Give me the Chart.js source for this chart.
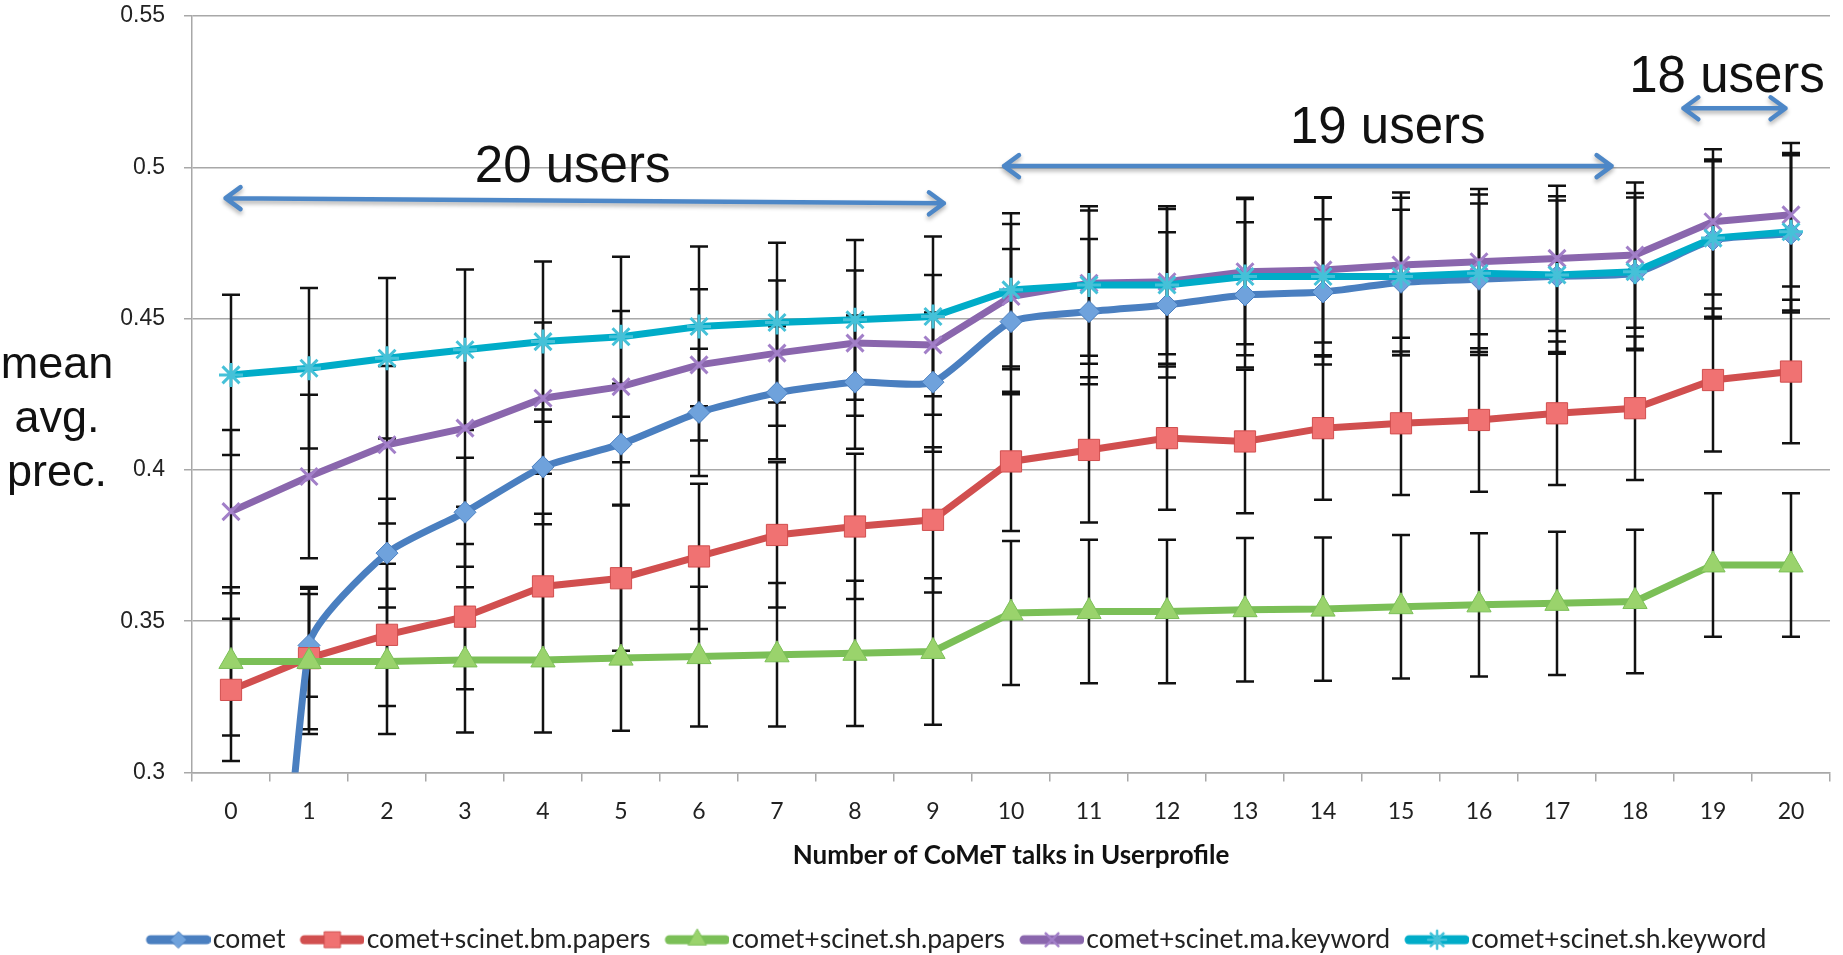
<!DOCTYPE html>
<html>
<head>
<meta charset="utf-8">
<script src="https://cdn.jsdelivr.net/npm/chart.js@4.4.1/dist/chart.umd.min.js"></script>
<style>
  html, body { margin: 0; padding: 0; background: #fff; }
</style>
</head>
<body>
<canvas id="prec" width="1843" height="955"></canvas>
<script>
const talks = ['0', '1', '2', '3', '4', '5', '6', '7', '8', '9', '10',
  '11', '12', '13', '14', '15', '16', '17', '18', '19', '20'];

// mean average precision per number of CoMeT talks
const comet = [0.0, 0.342, 0.3725, 0.386, 0.401, 0.4085, 0.419, 0.4255, 0.429, 0.429, 0.449,
  0.4523, 0.4545, 0.4578, 0.4588, 0.462, 0.463, 0.464, 0.465, 0.476, 0.478];
const bmPapers = [0.3273, 0.3378, 0.3455, 0.3515, 0.3615, 0.3642, 0.3714, 0.3785, 0.3813, 0.3835, 0.4028,
  0.4066, 0.4105, 0.4094, 0.4138, 0.4154, 0.4165, 0.4187, 0.4204, 0.4297, 0.4325];
const shPapers = [0.3367, 0.3367, 0.3367, 0.3372, 0.3372, 0.3378, 0.3383, 0.3389, 0.3394, 0.34, 0.3527,
  0.3532, 0.3532, 0.3538, 0.354, 0.3548, 0.3554, 0.3559, 0.3565, 0.3686, 0.3686];
const maKeyword = [0.3862, 0.3978, 0.4083, 0.4138, 0.4237, 0.4275, 0.4347, 0.4386, 0.4419, 0.4413, 0.4573,
  0.4617, 0.4622, 0.4655, 0.4661, 0.4677, 0.4688, 0.4699, 0.471, 0.482, 0.4843];
const shKeyword = [0.4314, 0.4336, 0.4369, 0.4397, 0.4424, 0.444, 0.4474, 0.4487, 0.4496, 0.4507, 0.4595,
  0.4611, 0.4611, 0.4639, 0.4639, 0.4639, 0.465, 0.4644, 0.4655, 0.4766, 0.4787];

// half length of the error bars
const cometErr = [0.03, 0.017, 0.018, 0.018, 0.019, 0.02, 0.021, 0.022, 0.022, 0.023, 0.024,
  0.024, 0.024, 0.024, 0.024, 0.024, 0.025, 0.025, 0.025, 0.026, 0.026];
const bmPapersErr = [0.0235, 0.0235, 0.0235, 0.024, 0.024, 0.024, 0.024, 0.024, 0.024, 0.024, 0.023,
  0.024, 0.0237, 0.0237, 0.0237, 0.0237, 0.0237, 0.0237, 0.0237, 0.0236, 0.0237];
const shPapersErr = [0.0245, 0.024, 0.024, 0.024, 0.024, 0.024, 0.0231, 0.0237, 0.024, 0.0242, 0.0238,
  0.0237, 0.0237, 0.0237, 0.0237, 0.0237, 0.0237, 0.0237, 0.0237, 0.0237, 0.0237];
const maKeywordErr = [0.027, 0.027, 0.026, 0.026, 0.025, 0.025, 0.025, 0.024, 0.024, 0.0231, 0.024,
  0.024, 0.024, 0.024, 0.024, 0.024, 0.024, 0.024, 0.024, 0.024, 0.0237];
const shKeywordErr = [0.0265, 0.0265, 0.0265, 0.0265, 0.0265, 0.0264, 0.0264, 0.0264, 0.0264, 0.0264, 0.0253,
  0.026, 0.026, 0.026, 0.026, 0.026, 0.026, 0.026, 0.026, 0.026, 0.026];

const seriesNames = ['comet', 'comet+scinet.bm.papers', 'comet+scinet.sh.papers',
  'comet+scinet.ma.keyword', 'comet+scinet.sh.keyword'];

// user count brackets: [from talk, to talk, value at start, value at end]
const userSpans = [[-0.07, 9.14, 0.4898, 0.4881], [9.91, 17.7, 0.5004, 0.5004], [18.62, 19.93, 0.5195, 0.5195]];
const userLabels = ['20 users', '19 users', '18 users'];
const userLabelAt = [[4.38, 0.4952], [14.83, 0.508], [19.18, 0.525]];

const values = [comet, bmPapers, shPapers, maKeyword, shKeyword];
const errors = [cometErr, bmPapersErr, shPapersErr, maKeywordErr, shKeywordErr];
const lineColors = ['#4a7fc0', '#d14f4f', '#7bbf57', '#8a66ad', '#00acc8'];
const markerFill = ['#6fa2dc', '#f07272', '#9ad36c', '#a27fc8', '#45c1d8'];
const markerStyle = ['rectRot', 'rect', 'triangle', 'crossRot', 'star'];
const markerSize = [11, 15, 14, 12, 12];

function legendIcon(i) {
  const c = document.createElement('canvas');
  c.width = 84;
  c.height = 28;
  const g = c.getContext('2d');
  g.lineCap = 'round';
  g.strokeStyle = lineColors[i];
  g.lineWidth = 9;
  g.beginPath();
  g.moveTo(24, 14);
  g.lineTo(80, 14);
  g.stroke();
  g.fillStyle = markerFill[i];
  g.strokeStyle = i >= 3 ? markerFill[i] : lineColors[i];
  g.lineWidth = i >= 3 ? 2.5 : 1;
  Chart.helpers.drawPoint(g, {pointStyle: markerStyle[i], radius: markerSize[i] * 0.75, rotation: 0, borderWidth: g.lineWidth}, 52, 14);
  return c;
}

const datasets = values.map((v, i) => ({
  label: seriesNames[i],
  data: v,
  borderColor: lineColors[i],
  borderWidth: 7,
  pointStyle: markerStyle[i],
  pointRadius: markerSize[i],
  pointBackgroundColor: markerFill[i],
  pointBorderColor: i >= 3 ? markerFill[i] : lineColors[i],
  pointBorderWidth: i >= 3 ? 3 : 1,
  tension: i === 0 ? 0.2 : 0,
  order: 4 - i
}));

const errorBars = {
  id: 'errorBars',
  beforeDatasetsDraw(chart) {
    const {ctx, chartArea: a, scales: {x, y}} = chart;
    ctx.save();
    ctx.beginPath();
    ctx.rect(a.left, a.top, a.right - a.left, a.bottom - a.top);
    ctx.clip();
    ctx.strokeStyle = '#111';
    ctx.lineWidth = 2.5;
    values.forEach((v, s) => {
      v.forEach((m, i) => {
        const px = x.getPixelForValue(i);
        const top = y.getPixelForValue(m + errors[s][i]);
        const bot = y.getPixelForValue(m - errors[s][i]);
        ctx.beginPath();
        ctx.moveTo(px, top); ctx.lineTo(px, bot);
        ctx.moveTo(px - 9, top); ctx.lineTo(px + 9, top);
        ctx.moveTo(px - 9, bot); ctx.lineTo(px + 9, bot);
        ctx.stroke();
      });
    });
    ctx.restore();
  }
};

const notes = {
  id: 'notes',
  afterDraw(chart) {
    const {ctx, scales: {x, y}} = chart;
    ctx.save();
    // arrows
    ctx.strokeStyle = '#4d87c7';
    ctx.lineWidth = 4.5;
    ctx.lineCap = 'round';
    ctx.lineJoin = 'round';
    ctx.shadowColor = 'rgba(0,0,0,0.3)';
    ctx.shadowBlur = 4;
    ctx.shadowOffsetY = 3;
    userSpans.forEach(([a, b, ya, yb]) => {
      const x1 = x.getPixelForValue(a), x2 = x.getPixelForValue(b);
      const y1 = y.getPixelForValue(ya), y2 = y.getPixelForValue(yb);
      ctx.beginPath();
      ctx.moveTo(x1, y1); ctx.lineTo(x2, y2);
      ctx.moveTo(x1 + 15, y1 - 11); ctx.lineTo(x1, y1); ctx.lineTo(x1 + 15, y1 + 11);
      ctx.moveTo(x2 - 15, y2 - 11); ctx.lineTo(x2, y2); ctx.lineTo(x2 - 15, y2 + 11);
      ctx.stroke();
    });
    ctx.shadowColor = 'transparent';
    ctx.fillStyle = '#111';
    ctx.font = '51px "Liberation Sans", Arial, sans-serif';
    ctx.textAlign = 'center';
    ctx.textBaseline = 'alphabetic';
    userLabels.forEach((t, i) => {
      ctx.fillText(t, x.getPixelForValue(userLabelAt[i][0]), y.getPixelForValue(userLabelAt[i][1]));
    });
    // y axis title, horizontal
    ctx.font = '45px "Liberation Sans", Arial, sans-serif';
    ctx.textBaseline = 'middle';
    ['mean', 'avg.', 'prec.'].forEach((t, i) => {
      ctx.fillText(t, 57, 366 + i * 54);
    });
    ctx.restore();
  }
};

const ctx = document.getElementById('prec');

new Chart(ctx, {
  type: 'line',
  data: { labels: talks, datasets: datasets },
  options: {
    responsive: false,
    animation: false,
    layout: { autoPadding: false, padding: { left: 74, right: 13, top: 16, bottom: -8 } },
    plugins: {
      tooltip: { enabled: false },
      legend: {
        position: 'bottom',
        labels: {
          usePointStyle: true,
          pointStyleWidth: 62,
          padding: 6,
          color: '#222',
          font: { family: 'Lato', size: 26.5 },
          generateLabels(chart) {
            const items = Chart.defaults.plugins.legend.labels.generateLabels(chart);
            items.sort((a, b) => a.datasetIndex - b.datasetIndex);
            items.forEach(it => { it.pointStyle = legendIcon(it.datasetIndex); });
            return items;
          }
        }
      }
    },
    scales: {
      x: {
        offset: true,
        grid: { offset: true, drawOnChartArea: false, color: '#a8a8a8', lineWidth: 1.5, tickLength: 9 },
        border: { color: '#a8a8a8', width: 1.5 },
        ticks: { color: '#222', padding: 16, font: { family: 'Lato', size: 23 } },
        title: {
          display: true,
          text: 'Number of CoMeT talks in Userprofile',
          color: '#111',
          font: { family: 'Lato', size: 26, weight: 'bold' },
          padding: { top: 0, bottom: 49 }
        },
        afterFit(scale) { scale.height = 148; }
      },
      y: {
        min: 0.3,
        max: 0.55,
        grid: { color: '#a8a8a8', lineWidth: 1.5, tickLength: 8 },
        border: { color: '#a8a8a8', width: 1.5 },
        ticks: {
          stepSize: 0.05,
          padding: 19,
          color: '#222',
          font: { family: '"Liberation Sans"', size: 23 },
          callback: v => String(+v.toFixed(2))
        },
        afterFit(scale) {
          scale.width = 118;
          scale.paddingTop = 0;
          scale.paddingBottom = 0;
        }
      }
    }
  },
  plugins: [errorBars, notes]
});
</script>
</body>
</html>
